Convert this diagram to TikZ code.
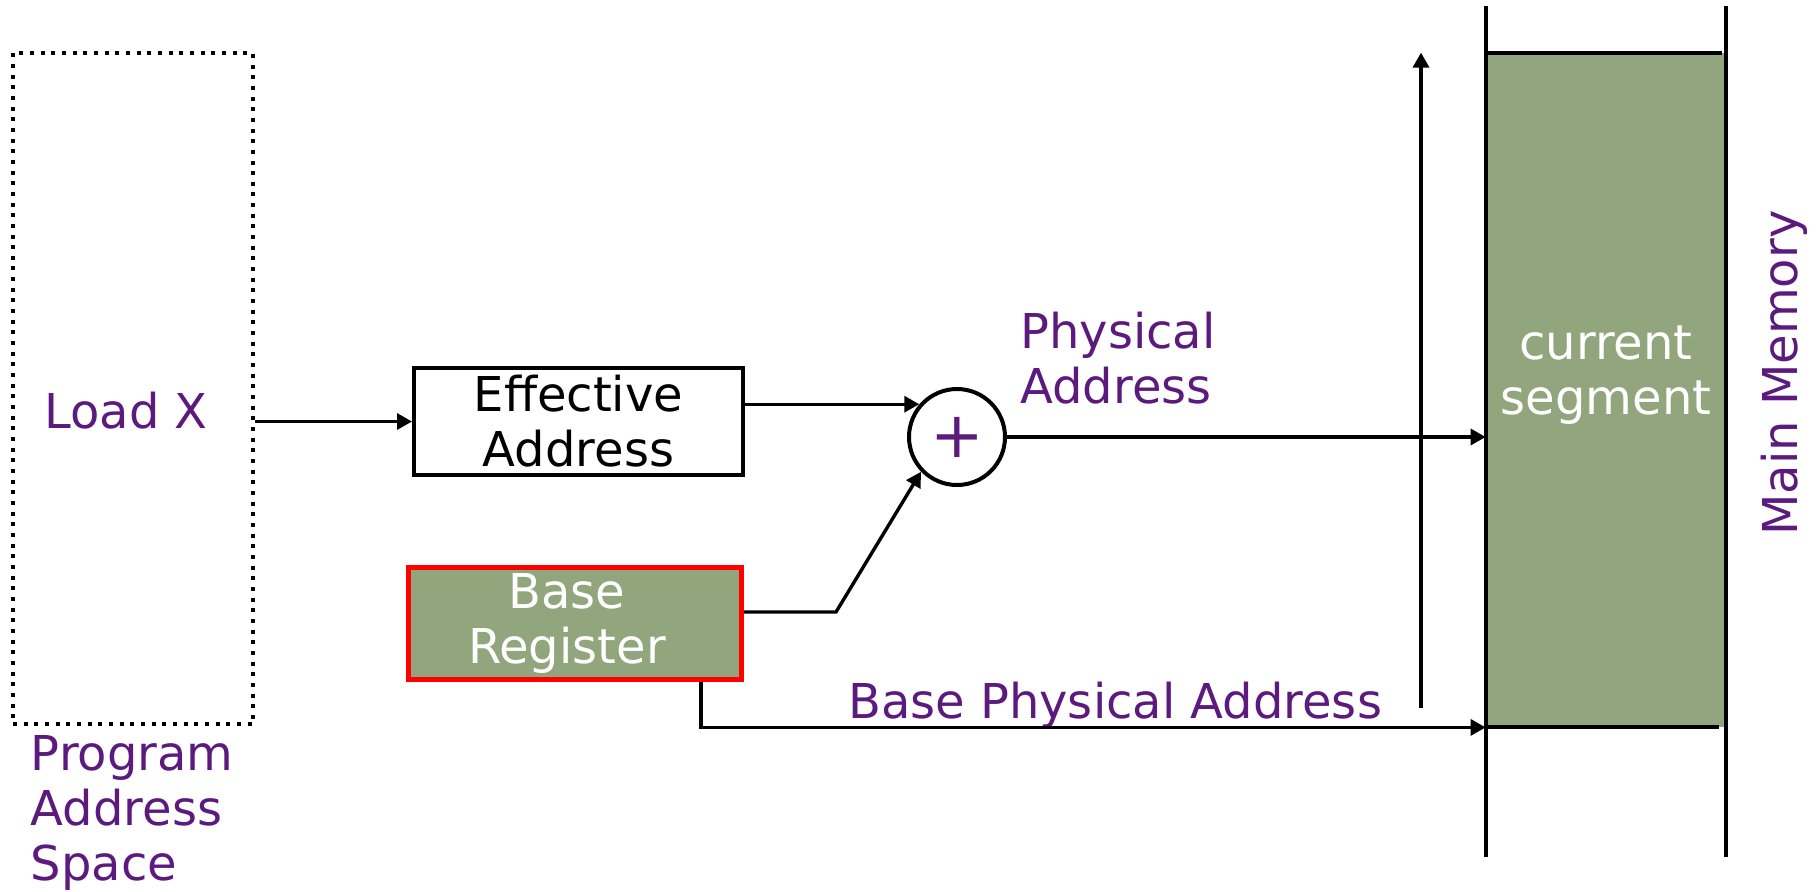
\documentclass[tikz,border=0pt]{standalone}
\usepackage{fontspec}
\setmainfont{DejaVu Sans}
\usetikzlibrary{arrows.meta}
\definecolor{ppl}{RGB}{92,26,126}
\definecolor{sgreen}{RGB}{146,166,125}
\definecolor{bred}{RGB}{255,0,0}
\begin{document}
\begin{tikzpicture}[x=0.5pt,y=-0.5pt,
  font=\fontsize{24}{27.5}\selectfont,
  conn/.style={line width=1.7pt,-{Triangle[length=7.5pt,width=8pt]}},
  memline/.style={line width=2pt},
  ptxt/.style={text=ppl,inner sep=0pt},
  boxstyle/.style={draw,line width=2pt,align=center,inner sep=0pt}]
\useasboundingbox (0,0) rectangle (1820,891);
% program address space
\node[draw,dash pattern=on 2pt off 3.33pt,line width=2pt,minimum width=120pt,minimum height=335.5pt,inner sep=0pt] (pas) at (133,388.5) {};
\node[ptxt,anchor=base west] (loadx) at (44,428) {Load X};
\node[ptxt,anchor=north west,align=left] (pasl) at (30.5,735) {Program\\Address\\Space};
% boxes
\node[boxstyle,minimum width=164.5pt,minimum height=53.5pt] (eff) at (578.5,421.5) {Effective\\Address};
\node[boxstyle,draw=bred,fill=sgreen,text=white,line width=2.5pt,minimum width=166.5pt,minimum height=56pt] (base) at (575,623.5) {\hspace*{-8pt}\raisebox{1.5pt}{Base}\\\hspace*{-8pt}\raisebox{1.5pt}{Register}};
\node[circle,draw,line width=2pt,minimum size=48pt,inner sep=0pt,text=ppl,font=\fontsize{32}{32}\selectfont] (circ) at (957,437) {+};
\node[ptxt,anchor=north west,align=left] (phys) at (1020,312) {Physical\\Address};
\node[ptxt,anchor=base] (bpa) at (1115,718) {Base Physical Address};
% memory
\node[fill=sgreen,minimum width=120pt,minimum height=337pt,inner sep=0pt] (seg) at (1606,390) {};
\node[text=white,align=center,inner sep=0pt] (segl) at (1606,375) {current\\segment};
\node[ptxt,rotate=90,anchor=base] (mm) at (1797,373) {Main Memory};
\coordinate (mlt) at (1486,6);
\coordinate (mlb) at (1486,857);
\coordinate (mrt) at (1726,6);
\coordinate (mrb) at (1726,857);
\coordinate (vb) at (1421,708);
\draw[memline] (mlt) -- (mlb);
\draw[memline] (mrt) -- (mrb);
\draw[memline] (seg.north west) -- ([xshift=-2pt]seg.north east);
\draw[memline] (seg.south west) -- ([xshift=-3.5pt]seg.south east);
% connectors
\draw[conn] (pas.east |- eff.west) -- (eff.west);
\draw[conn] (eff.east |- circ.139) -- (circ.139);
\draw[conn] ([yshift=5.75pt]base.east) -- ++(46pt,0) -- (circ.224);
\draw[conn] (circ.east) -- (seg.west |- circ.east);
\draw[conn] ([xshift=63pt]base.south) |- (seg.south west);
\draw[conn] (vb) -- (vb |- seg.north);
\end{tikzpicture}
\end{document}
